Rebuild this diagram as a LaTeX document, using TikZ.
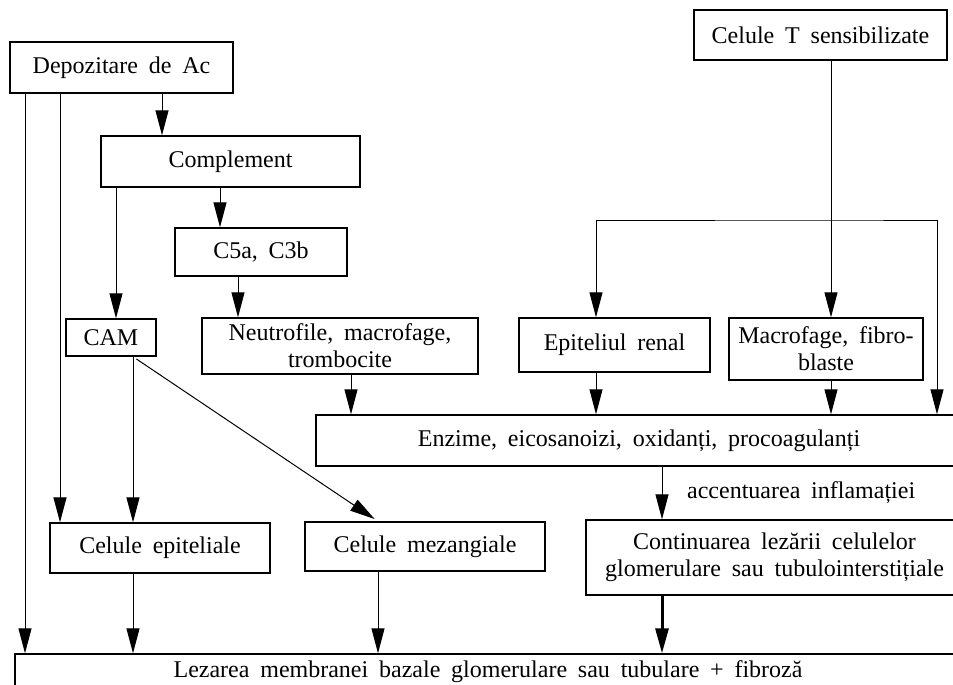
\documentclass[tikz,border=0pt]{standalone}
\usepackage{fontspec}
\setmainfont{Liberation Serif}[WordSpace=1.8]
\usetikzlibrary{arrows.meta}

\begin{document}
\begin{tikzpicture}[x=0.5pt, y=-0.5pt, >={Triangle[length=12.5pt, width=6.5pt]},
  box/.style={draw, line width=0.7pt, align=center, inner sep=0pt, font=\fontsize{12}{13.5}\selectfont},
  sz/.style 2 args={minimum width=#1*0.5pt, minimum height=#2*0.5pt},
  link/.style={->, line width=0.5pt}]
\useasboundingbox (0,0) rectangle (953,685);
% boxes: centre and size in pixels of the scan
\node[box, sz={223}{51}] (dep) at (121.5,67.5) {Depozitare de Ac};
\node[box, sz={259}{51}] (compl) at (230.5,161.5) {Complement};
\node[box, sz={172}{48}] (c5a) at (261,252) {C5a, C3b};
\node[box, sz={90}{37}] (cam) at (111,337.5) {CAM};
\node[box, sz={276}{56}] (neutro) at (340,346) {Neutrofile, macrofage,\\trombocite};
\node[box, sz={253}{50}] (celt) at (820.5,35) {Celule T sensibilizate};
\node[box, sz={191}{54}] (epren) at (614.5,345) {Epiteliul renal};
\node[box, sz={194}{62}] (macro) at (826,349) {Macrofage, fibro-\\blaste};
\node[box, sz={646}{51}] (enz) at (639,440.5) {Enzime, eicosanoizi, oxidanți, procoagulanți};
\node[box, sz={220}{50}] (epit) at (160,548) {Celule epiteliale};
\node[box, sz={240}{49}] (mez) at (425,546.5) {Celule mezangiale};
\node[box, sz={377}{75}] (cont) at (774.5,557.5) {Continuarea lezării celulelor\\glomerulare sau tubulointerstițiale};
\node[box, sz={946}{36}] (lez) at (488,672) {Lezarea membranei bazale glomerulare sau tubulare + fibroză};
% columns of the vertical links
\foreach \n/\x in {a/25, b/60, c/162, d/116, e/220, f/238, g/133, h/351, i/596, j/831, k/937, l/662, m/378}
  \coordinate (x\n) at (\x,0);
\coordinate (split) at (831,220);

\draw[link] (dep.south -| xa) -- (lez.north -| xa);
\draw[link] (dep.south -| xb) -- (epit.north -| xb);
\draw[link] (dep.south -| xc) -- (compl.north -| xc);
\draw[link] (compl.south -| xd) -- (cam.north -| xd);
\draw[link] (compl.south -| xe) -- (c5a.north -| xe);
\draw[link] (c5a.south -| xf) -- (neutro.north -| xf);
\draw[link] (cam.south -| xg) -- (epit.north -| xg);
\draw[link, shorten <=2pt, shorten >=2pt] (cam.south -| xg) -- (mez.north -| xm);
\draw[link] (epit.south -| xg) -- (lez.north -| xg);
\draw[link] (mez.south -| xm) -- (lez.north -| xm);
\draw[link] (neutro.south -| xh) -- (enz.north -| xh);
\draw[link] (celt.south -| xj) -- (macro.north -| xj);
\draw[link, <->] (epren.north -| xi) |- (split) -| (enz.north -| xk);
\draw[link] (epren.south -| xi) -- (enz.north -| xi);
\draw[link] (macro.south -| xj) -- (enz.north -| xj);
\draw[link] (enz.south -| xl) -- node[right=9pt, font=\fontsize{12}{13.5}\selectfont] (acc) {accentuarea inflamației} (cont.north -| xl);
\draw[link, line width=1.5pt] (cont.south -| xl) -- (lez.north -| xl);
\end{tikzpicture}
\end{document}
